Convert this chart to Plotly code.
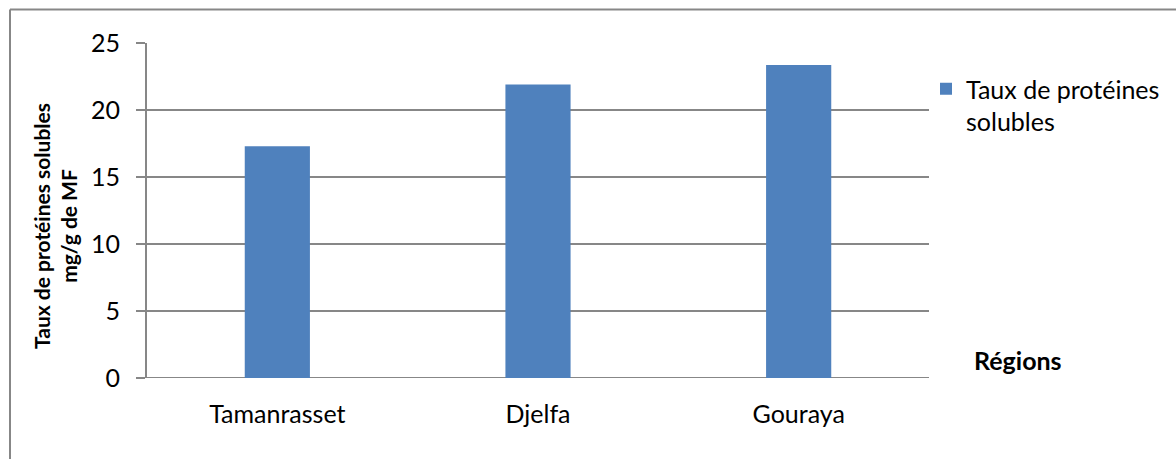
import plotly.graph_objects as go

# Data
regions = ["Tamanrasset", "Djelfa", "Gouraya"]
proteines = [17.3, 21.9, 23.35]
series_name = "Taux de protéines<br>solubles"
y_ticks = [0, 5, 10, 15, 20, 25]

# Canvas / plot-area geometry (pixels)
W, H = 1176, 459
L, R, T, B = 147, 929, 43, 378
PW, PH = R - L, B - T


def px_x(p):
    return (p - L) / PW


def px_y(p):
    return (B - p) / PH


GRID = "#878787"
BAR = "#4F81BD"
FONT = "Lato, 'Open Sans', sans-serif"

fig = go.Figure()
fig.add_trace(go.Bar(
    x=regions,
    y=proteines,
    name=series_name,
    marker=dict(color=BAR, line=dict(width=0)),
    showlegend=True,
))

fig.update_layout(
    width=W,
    height=H,
    margin=dict(l=L, r=W - R, t=T, b=H - B, autoexpand=False),
    paper_bgcolor="white",
    plot_bgcolor="white",
    font=dict(family=FONT, size=25, color="#000000"),
    bargap=0.75,
    showlegend=True,
    legend=dict(
        x=px_x(926), y=px_y(66), xanchor="left", yanchor="top",
        font=dict(size=25, family=FONT, color="#000000"),
        valign="top", itemwidth=30, bgcolor="rgba(0,0,0,0)",
        tracegroupgap=0,
    ),
    xaxis=dict(
        showline=False,
        ticks="",
        showgrid=False,
        tickfont=dict(size=25),
        ticklabelstandoff=19,
    ),
    yaxis=dict(
        range=[0, 25],
        tickvals=y_ticks,
        showgrid=True,
        gridcolor=GRID,
        gridwidth=2,
        showline=True,
        linecolor=GRID,
        linewidth=2,
        ticks="outside",
        ticklen=9,
        tickwidth=2,
        tickcolor=GRID,
        tickfont=dict(size=25),
        ticklabelstandoff=11,
        zeroline=False,
    ),
    annotations=[
        dict(
            text="<b>Taux de protéines solubles<br>mg/g de MF</b>",
            xref="paper", yref="paper",
            x=px_x(55), y=px_y(226),
            xanchor="center", yanchor="middle",
            textangle=-90, showarrow=False,
            font=dict(size=21, family=FONT, color="#000000"),
        ),
        dict(
            text="<b>Régions</b>",
            xref="paper", yref="paper",
            x=px_x(1018), y=px_y(360),
            xanchor="center", yanchor="middle",
            showarrow=False,
            font=dict(size=25, family=FONT, color="#000000"),
        ),
    ],
    shapes=[
        # outer chart frame (top and left edges visible)
        dict(type="line", xref="paper", yref="paper",
             x0=px_x(10), x1=px_x(W + 20), y0=px_y(9.5), y1=px_y(9.5),
             line=dict(color=GRID, width=2)),
        dict(type="line", xref="paper", yref="paper",
             x0=px_x(10), x1=px_x(10), y0=px_y(9.5), y1=px_y(H + 20),
             line=dict(color=GRID, width=2)),
        # category baseline at zero
        dict(type="line", xref="paper", yref="y",
             x0=0, x1=1, y0=0, y1=0,
             line=dict(color=GRID, width=2), layer="below"),
    ],
)

fig.write_html("out.html")
